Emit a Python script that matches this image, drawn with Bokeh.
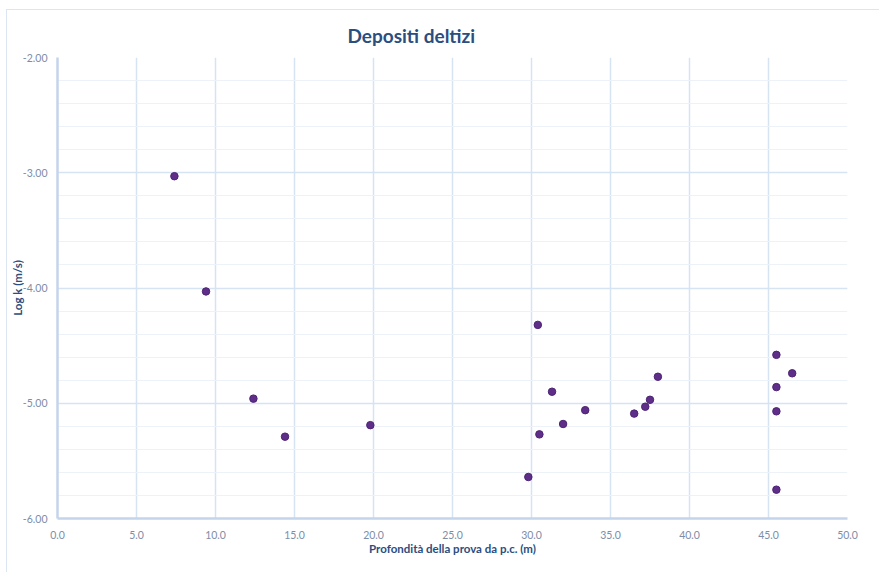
from bokeh.plotting import figure
from bokeh.models import FixedTicker, NumeralTickFormatter, Range1d, ColumnDataSource
from bokeh.embed import file_html
from bokeh.resources import INLINE

# Data
depth = [7.4, 9.4, 12.4, 14.4, 19.8, 30.4, 31.3, 33.4, 32.0, 30.5, 29.8,
         36.5, 37.2, 37.5, 38.0, 45.5, 46.5, 45.5, 45.5, 45.5]
logk = [-3.03, -4.03, -4.96, -5.29, -5.19, -4.32, -4.90, -5.06, -5.18, -5.27, -5.64,
        -5.09, -5.03, -4.97, -4.77, -4.58, -4.74, -4.86, -5.07, -5.75]
x_ticks = [0, 5, 10, 15, 20, 25, 30, 35, 40, 45, 50]
y_ticks = [-6, -5, -4, -3, -2]
y_minor = [round(-6 + 0.2 * i, 1) for i in range(21)]

title_text = "Depositi deltizi"
x_label = "Profondità della prova da p.c. (m)"
y_label = "Log k (m/s)"

FONT = "Lato"
GRID = "#D6E3F3"
AXIS = "#C4D5EB"

p = figure(width=873, height=563, output_backend="svg", toolbar_location=None,
           x_range=Range1d(0, 50), y_range=Range1d(-6, -2),
           min_border_left=48, min_border_right=33, min_border_top=47, min_border_bottom=55)
p.styles = {"border-top": "1px solid #DCE6F2", "border-left": "1px solid #DCE6F2",
            "margin-top": "9px", "margin-left": "6px"}

p.title.text = title_text
p.title.align = "left"
p.title.offset = 290
p.title.text_font = FONT
p.title.text_font_size = "19px"
p.title.text_color = "#2A4E7F"
p.title.text_font_style = "bold"
p.title.standoff = 22

src = ColumnDataSource(dict(x=depth, y=logk))
p.scatter("x", "y", source=src, size=7.5, fill_color="#5E2E88", line_color="#4E2474", line_width=1)

xt = FixedTicker(ticks=x_ticks, minor_ticks=[])
yt = FixedTicker(ticks=y_ticks, minor_ticks=y_minor)
p.xaxis.ticker = xt
p.yaxis.ticker = yt
p.xgrid.ticker = xt
p.ygrid.ticker = yt
p.xaxis.formatter = NumeralTickFormatter(format="0.0")
p.yaxis.formatter = NumeralTickFormatter(format="0.00")

for ax in (p.xaxis[0], p.yaxis[0]):
    ax.axis_line_color = AXIS
    ax.axis_line_width = 2.5
    ax.major_tick_line_color = None
    ax.minor_tick_line_color = None
    ax.major_tick_out = 0
    ax.minor_tick_out = 0
    ax.major_label_text_font = FONT
    ax.major_label_text_font_size = "10.5px"
    ax.major_label_text_color = "#7D8DA8"
    ax.axis_label_text_font = FONT
    ax.axis_label_text_font_size = "11.5px"
    ax.axis_label_text_font_style = "bold"
    ax.axis_label_text_color = "#2A4E7F"

p.xaxis.axis_label = x_label
p.yaxis.axis_label = y_label
p.xaxis.major_label_standoff = 12
p.xaxis.axis_label_standoff = 0
p.yaxis.major_label_standoff = 10
p.yaxis.axis_label_standoff = -4
p.yaxis.axis_label_text_line_height = 0.5

p.xgrid.grid_line_color = GRID
p.ygrid.grid_line_color = GRID
p.xgrid.grid_line_width = 1.5
p.ygrid.grid_line_width = 1.5
p.ygrid.minor_grid_line_color = "#EDF2F9"
p.outline_line_color = None

open("out.html", "w").write(file_html(p, INLINE))
